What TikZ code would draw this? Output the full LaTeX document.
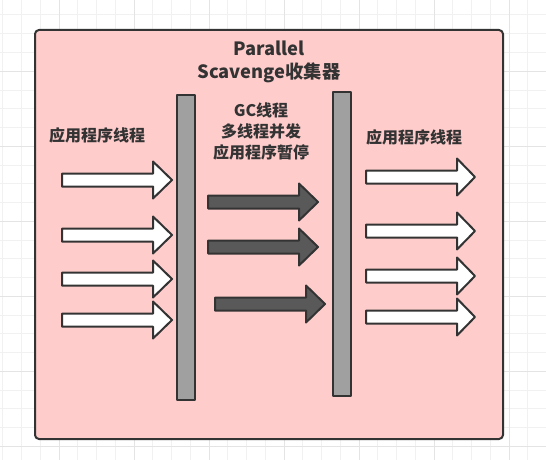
\documentclass[tikz,border=0pt]{standalone}
\usepackage{fontspec}
\usepackage{xcolor}
\usepackage{tikz}
\newfontfamily\cjk{Noto Sans CJK SC}
\definecolor{boxpink}{HTML}{FFCCCC}
\definecolor{edgegray}{HTML}{333333}
\definecolor{bargray}{HTML}{A0A0A0}
\definecolor{gcgray}{HTML}{595959}
\definecolor{gridthin}{HTML}{F1F1F1}
\definecolor{gridthick}{HTML}{E4E4E4}

\begin{document}
\begin{tikzpicture}[x=1pt, y=-1pt, line join=round,
  bar/.style={draw=edgegray, fill=bargray, line width=2pt, minimum width=18pt, inner sep=0pt},
  thrtext/.style={text=edgegray, align=center, inner sep=0pt, font=\cjk\bfseries\fontsize{16}{21}\selectfont},
  titletext/.style={text=edgegray, align=center, inner sep=0pt, font=\cjk\bfseries\fontsize{18.3}{23}\selectfont},
  appthread/.style={draw=edgegray, fill=white, line width=2pt},
  gcthread/.style={draw=edgegray, fill=gcgray, line width=2pt}]
  \useasboundingbox (0,0) rectangle (546,460);
  \fill[white] (0,0) rectangle (546,460);
  % background grid
  \foreach \i in {0,...,29}
    \draw[gridthin, line width=1pt] ({2.75+18.75*\i},0) -- ({2.75+18.75*\i},460);
  \foreach \j in {0,...,25}
    \draw[gridthin, line width=1pt] (0,{-3.75+18.75*\j}) -- (546,{-3.75+18.75*\j});
  \foreach \k in {0,...,6}
    \draw[gridthick, line width=1pt] ({59+75*\k},0) -- ({59+75*\k},460);
  \foreach \k in {0,...,6}
    \draw[gridthick, line width=1pt] (0,{-3.75+75*\k}) -- (546,{-3.75+75*\k});
  % collector box
  \draw[draw=edgegray, fill=boxpink, line width=2pt, rounded corners=4pt] (35,30) rectangle (503,439);
  \node[titletext] (title) at (269,62) {Parallel\\Scavenge收集器};
  % the two pause bars
  \node[bar, minimum height=305pt] (leftbar) at (186,247.5) {};
  \node[bar, minimum height=304pt] (rightbar) at (342,244) {};
  % labels
  \node[thrtext] (leftlabel) at (97,135.5) {应用程序线程};
  \node[thrtext] (gclabel) at (261,131) {GC线程\\多线程并发\\应用程序暂停};
  \node[thrtext] (rightlabel) at (414,137) {应用程序线程};
  % application threads before the pause
  \foreach \y in {180,235,279,320}
    \draw[appthread] (62,\y-6.5) -- (153,\y-6.5) -- (153,\y-18.5) -- (172,\y)
      -- (153,\y+18.5) -- (153,\y+6.5) -- (62,\y+6.5) -- cycle;
  % gc threads
  \foreach \xa/\xb/\y in {208/318/202, 208/318/247, 215/325/304}
    \draw[gcthread] (\xa,\y-6.5) -- (\xb-19,\y-6.5) -- (\xb-19,\y-18.5) -- (\xb,\y)
      -- (\xb-19,\y+18.5) -- (\xb-19,\y+6.5) -- (\xa,\y+6.5) -- cycle;
  % application threads after the pause
  \foreach \y in {177,231,276,317}
    \draw[appthread] (366,\y-6.5) -- (457,\y-6.5) -- (457,\y-18.5) -- (475,\y)
      -- (457,\y+18.5) -- (457,\y+6.5) -- (366,\y+6.5) -- cycle;
\end{tikzpicture}
\end{document}
